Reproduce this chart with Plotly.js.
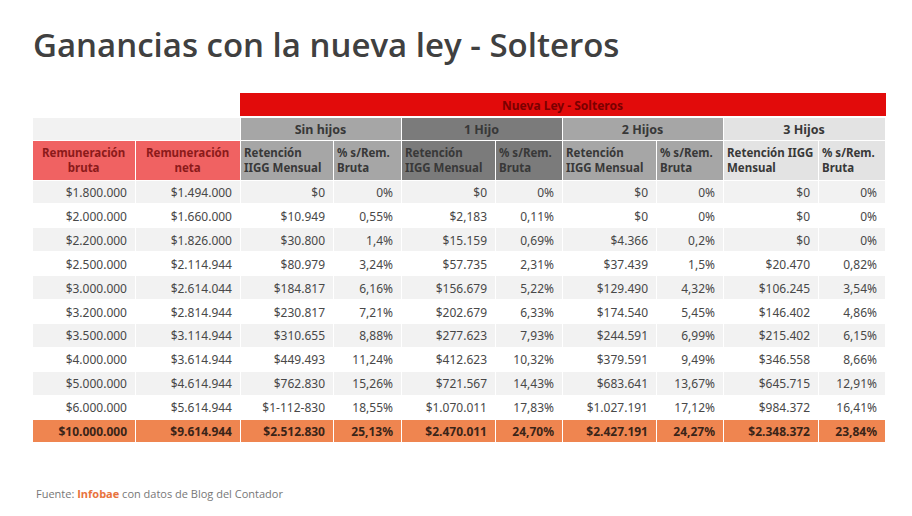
<!DOCTYPE html>
<html>
<head>
<meta charset="utf-8">
<script src="https://cdn.plot.ly/plotly-3.0.1.min.js"></script>
<style>html,body{margin:0;padding:0;background:#fff;}#chart{width:912px;height:516px;}</style>
</head>
<body>
<div id="chart"></div>
<script>
// ---- Data ----
const bandLabel = "Nueva Ley - Solteros";
const groupLabels = ["Sin hijos", "1 Hijo", "2 Hijos", "3 Hijos"];
const columnHeaders = [
  "Remuneración<br>bruta", "Remuneración<br>neta",
  "Retención<br>IIGG Mensual", "% s/Rem.<br>Bruta",
  "Retención<br>IIGG Mensual", "% s/Rem.<br>Bruta",
  "Retención<br>IIGG Mensual", "% s/Rem.<br>Bruta",
  "Retención IIGG<br>Mensual", "% s/Rem.<br>Bruta"
];
const bruta = ["$1.800.000","$2.000.000","$2.200.000","$2.500.000","$3.000.000","$3.200.000","$3.500.000","$4.000.000","$5.000.000","$6.000.000","$10.000.000"];
const neta = ["$1.494.000","$1.660.000","$1.826.000","$2.114.944","$2.614.044","$2.814.944","$3.114.944","$3.614.944","$4.614.944","$5.614.944","$9.614.944"];
const retSinHijos = ["$0","$10.949","$30.800","$80.979","$184.817","$230.817","$310.655","$449.493","$762.830","$1-112-830","$2.512.830"];
const pctSinHijos = ["0%","0,55%","1,4%","3,24%","6,16%","7,21%","8,88%","11,24%","15,26%","18,55%","25,13%"];
const ret1Hijo = ["$0","$2,183","$15.159","$57.735","$156.679","$202.679","$277.623","$412.623","$721.567","$1.070.011","$2.470.011"];
const pct1Hijo = ["0%","0,11%","0,69%","2,31%","5,22%","6,33%","7,93%","10,32%","14,43%","17,83%","24,70%"];
const ret2Hijos = ["$0","$0","$4.366","$37.439","$129.490","$174.540","$244.591","$379.591","$683.641","$1.027.191","$2.427.191"];
const pct2Hijos = ["0%","0%","0,2%","1,5%","4,32%","5,45%","6,99%","9,49%","13,67%","17,12%","24,27%"];
const ret3Hijos = ["$0","$0","$0","$20.470","$106.245","$146.402","$215.402","$346.558","$645.715","$984.372","$2.348.372"];
const pct3Hijos = ["0%","0%","0%","0,82%","3,54%","4,86%","6,15%","8,66%","12,91%","16,41%","23,84%"];

// ---- Layout constants (pixels) ----
const W = 912, H = 516;
const left = 32;
const colW = [103,105,93,68,94,67,94,67,95,67];
const totalW = colW.reduce((a,b)=>a+b,0);
const px = x => x / W;
const py = y => 1 - y / H;
const colStart = colW.map((w, i) => left + colW.slice(0, i).reduce((a,b)=>a+b,0));

const columns = [bruta, neta, retSinHijos, pctSinHijos, ret1Hijo, pct1Hijo, ret2Hijos, pct2Hijos, ret3Hijos, pct3Hijos];
const nRows = bruta.length;
const lastRow = nRows - 1;

const gray = '#f2f2f2', orange = '#ef8550';
const rowFill = Array.from({length:nRows}, (_, i) => i === lastRow ? orange : (i % 2 === 0 ? gray : '#ffffff'));
const cellFill = columns.map(() => rowFill);
const cellFontColor = columns.map(() => rowFill.map((c, i) => i === lastRow ? '#3a2418' : '#484848'));
const cellFontWeight = columns.map(() => rowFill.map((c, i) => i === lastRow ? 700 : 400));

const font = 'Noto Sans, sans-serif';
const xDom = [px(left), px(left + totalW)];

// Band row (red)
const bandTable = {
  type: 'table', uid: 'band',
  domain: {x: xDom, y: [py(117), py(93)]},
  columnwidth: [colW[0] + colW[1], totalW - colW[0] - colW[1]],
  header: {
    values: ['', bandLabel],
    height: 24,
    align: 'center',
    fill: {color: ['#ffffff', '#e20b0b']},
    line: {color: ['#ffffff', '#e20b0b'], width: 1},
    font: {family: font, size: 12, weight: 700, color: '#7a0000'}
  },
  cells: {values: [[''], ['']], height: 20, fill: {color: '#ffffff'}, line: {color: '#ffffff', width: 0}}
};

// Group row
const groupW = [colW[0] + colW[1], colW[2] + colW[3], colW[4] + colW[5], colW[6] + colW[7], colW[8] + colW[9]];
const groupTable = {
  type: 'table', uid: 'group',
  domain: {x: xDom, y: [py(140), py(117)]},
  columnwidth: groupW,
  header: {
    values: [''].concat(groupLabels),
    height: 23,
    align: 'center',
    fill: {color: [gray, '#a6a6a6', '#7b7b7b', '#a6a6a6', '#e3e3e3']},
    line: {color: '#ffffff', width: 1},
    font: {family: font, size: 12.5, weight: 700, color: '#383838'}
  },
  cells: {values: [[''],[''],[''],[''],['']], height: 20, fill: {color: '#ffffff'}, line: {color: '#ffffff', width: 0}}
};

const headFill = ['#f06262','#f06262','#a6a6a6','#a6a6a6','#7b7b7b','#7b7b7b','#a6a6a6','#a6a6a6','#e3e3e3','#e3e3e3'];
const headAlign = ['center','center','left','left','left','left','left','left','left','left'];
const headColor = ['#8b1a1a','#8b1a1a','#383838','#383838','#383838','#383838','#383838','#383838','#383838','#383838'];
const mainTable = {
  type: 'table', uid: 'main',
  domain: {x: xDom, y: [py(452), py(140)]},
  columnwidth: colW,
  header: {
    values: columnHeaders.map(() => ''),
    height: 40,
    fill: {color: headFill},
    line: {color: '#ffffff', width: 1}
  },
  cells: {
    values: columns,
    height: 23.9,
    align: 'right',
    fill: {color: cellFill},
    line: {color: '#ffffff', width: 1},
    font: {family: font, size: 12, color: cellFontColor, weight: cellFontWeight}
  }
};

// Column header labels (two-line, placed over the header cells)
const headerAnnotations = columnHeaders.map((t, i) => ({
  text: t,
  xref: 'paper', yref: 'paper',
  x: headAlign[i] === 'center' ? px(colStart[i] + colW[i] / 2) : px(colStart[i] + 2),
  xanchor: headAlign[i] === 'center' ? 'center' : 'left',
  align: headAlign[i],
  y: py(160), yanchor: 'middle',
  showarrow: false,
  font: {family: font, size: 11.5, weight: 700, color: headColor[i]}
}));

const layout = {
  width: W, height: H,
  margin: {l: 0, r: 0, t: 0, b: 0},
  paper_bgcolor: '#ffffff',
  plot_bgcolor: '#ffffff',
  showlegend: false,
  title: {
    text: 'Ganancias con la nueva ley - Solteros',
    x: px(33), xanchor: 'left', xref: 'paper',
    y: py(45), yanchor: 'middle', yref: 'container',
    font: {family: 'Open Sans, sans-serif', size: 33, weight: 600, color: '#404040'}
  },
  annotations: headerAnnotations.concat([{
    text: 'Fuente: <span style="color:#e8733d"><b>Infobae</b></span> con datos de Blog del Contador',
    x: px(34), y: py(493), xref: 'paper', yref: 'paper',
    xanchor: 'left', yanchor: 'middle', showarrow: false,
    font: {family: 'Open Sans, sans-serif', size: 11, color: '#777777'}
  }])
};

Plotly.newPlot('chart', [bandTable, groupTable, mainTable], layout, {staticPlot: true, displayModeBar: false});
</script>
</body>
</html>
